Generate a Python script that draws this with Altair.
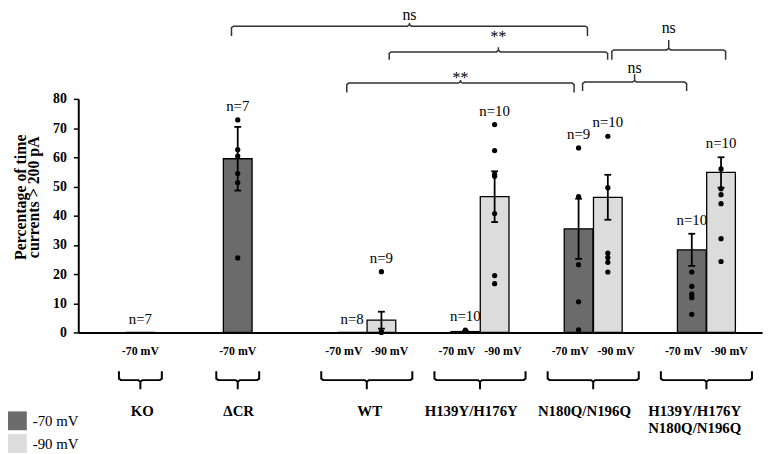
import altair as alt
import pandas as pd

# ---------------- data ----------------
GROUPS = ["KO", "ΔCR", "WT", "H139Y/H176Y", "N180Q/N196Q", "H139Y/H176Y\nN180Q/N196Q"]
VOLTAGES = ["-70 mV", "-90 mV"]
VOLT_COLORS = ["#6b6b6b", "#dcdcdc"]
Y_TITLE = ["Percentage of time", "currents > 200 pA"]

BAR_GROUP = [0, 1, 2, 2, 3, 3, 4, 4, 5, 5]  # index into GROUPS
BAR_VOLT = ["-70 mV", "-70 mV", "-70 mV", "-90 mV", "-70 mV",
            "-90 mV", "-70 mV", "-90 mV", "-70 mV", "-90 mV"]
BAR_MEAN = [0.0, 59.5, 0.0, 4.2, 0.3, 46.5, 35.5, 46.3, 28.3, 54.8]
BAR_SEM = [0.0, 10.9, 0.0, 2.9, 0.2, 8.7, 10.3, 7.7, 5.5, 5.2]
BAR_N = [7, 7, 8, 9, 10, 10, 9, 10, 10, 10]
BAR_POINTS = [
    [],
    [72.8, 62.6, 60.4, 54.4, 51.3, 25.5],
    [],
    [20.8, 0.3, 0.0],
    [0.8, 0.4],
    [71.2, 62.3, 54.2, 53.5, 40.7, 19.5, 16.7],
    [63.2, 46.5, 23.2, 10.5, 0.9],
    [67.2, 49.6, 27.2, 25.7, 24.0, 20.7],
    [20.7, 15.8, 13.1, 11.9, 6.2],
    [56.0, 49.2, 47.2, 44.1, 32.1, 24.3],
]

# significance comparisons (bar index -> bar index)
SIG_FROM = [1, 3, 2, 7, 6]
SIG_TO = [6, 7, 6, 9, 8]
SIG_LABEL = ["ns", "**", "**", "ns", "ns"]

# ---------------- layout ----------------
W, H = 691, 236
X_DOM = [-0.505, 5.448]
Y_DOM = [0, 80]
UX = (X_DOM[1] - X_DOM[0]) / W   # x data units per pixel
UY = (Y_DOM[1] - Y_DOM[0]) / H   # y data units per pixel
GROUP_X = [0.0, 0.86, 2.0, 3.0, 4.0, 5.0]
GROUP_LABEL_DX = [2, 1, 3, -9, -9, -12]   # px
PAIR_HALF = 15      # px between bar center and pair center
VOLT_LABEL_HALF = 23.5  # px between voltage label and pair center
BAR_W = 29
CAP_HALF = 3.5
TITLE_LINE_X = [-59, -45]   # px left of the y axis (baselines)
TITLE_Y = 46.3              # data value where the y title is centred

# bracket layout: (left nudge px, right nudge px, line y, end drop px, tip rise px, text offset px)
SIG_LAYOUT = [
    (-6.4, 9.1, 104.92, 10, 3.5, 6.5),
    (8.0, -0.2, 96.10, 8, 4.7, 9.5),
    (-5.5, -4.6, 85.42, 9.5, 3, 0),
    (4.1, 4.7, 96.78, 10, 10, 17),
    (4.1, -5.3, 85.76, 9, 8, 9.5),
]
VOLT_LABEL_Y = -7.63
BRACE_TOP, BRACE_LINE, BRACE_TIP = -13.29, -16.34, -19.49
GROUP_LABEL_Y = -28.75


def paired(g):
    return BAR_GROUP.count(g) > 1


def offset_x(i, half_px):
    g = BAR_GROUP[i]
    if not paired(g):
        return GROUP_X[g]
    sign = -1 if BAR_VOLT[i] == VOLTAGES[0] else 1
    return GROUP_X[g] + sign * half_px * UX


bars = pd.DataFrame({
    "x": [offset_x(i, PAIR_HALF) for i in range(len(BAR_MEAN))],
    "lx": [offset_x(i, VOLT_LABEL_HALF) for i in range(len(BAR_MEAN))],
    "mean": BAR_MEAN,
    "lo": [m - s for m, s in zip(BAR_MEAN, BAR_SEM)],
    "hi": [m + s for m, s in zip(BAR_MEAN, BAR_SEM)],
    "sem": BAR_SEM,
    "volt": BAR_VOLT,
    "nlab": [f"n={n}" for n in BAR_N],
})
bars["top"] = [max([h] + p) for h, p in zip(bars["hi"], BAR_POINTS)]
bars["xl"] = bars["x"] - CAP_HALF * UX
bars["xr"] = bars["x"] + CAP_HALF * UX
bars["vy"] = VOLT_LABEL_Y
err = bars[bars["sem"] > 0]

pts = pd.DataFrame([{"x": bars["x"][i], "v": v}
                    for i, p in enumerate(BAR_POINTS) for v in p])


def brace(bid, x1, x2, y_line, y_end, y_tip):
    c = (x1 + x2) / 2
    se = 1 if y_end > y_line else -1
    st = 1 if y_tip > y_line else -1
    seq = [(x1, y_end), (x1, y_line + se * 1.5 * UY), (x1 + 2 * UX, y_line),
           (c - 2 * UX, y_line), (c, y_line + st * 1.5 * UY), (c, y_tip),
           (c, y_line + st * 1.5 * UY), (c + 2 * UX, y_line),
           (x2 - 2 * UX, y_line), (x2, y_line + se * 1.5 * UY), (x2, y_end)]
    return [{"id": bid, "o": k, "x": px, "y": py} for k, (px, py) in enumerate(seq)]


rows = []
glab = []
for g, name in enumerate(GROUPS):
    half = (46.7 if paired(g) else 22) * UX
    rows += brace(f"g{g}", GROUP_X[g] - half, GROUP_X[g] + half, BRACE_LINE, BRACE_TOP, BRACE_TIP)
    glab.append({"x": GROUP_X[g] + GROUP_LABEL_DX[g] * UX, "y": GROUP_LABEL_Y, "t": name})
braces = pd.DataFrame(rows)
glab = pd.DataFrame(glab)

srows = []
slab = []
for k, (a, b, lab) in enumerate(zip(SIG_FROM, SIG_TO, SIG_LABEL)):
    nl, nr, yl, drop, rise, toff = SIG_LAYOUT[k]
    x1 = offset_x(a, PAIR_HALF) + nl * UX
    x2 = offset_x(b, PAIR_HALF) + nr * UX
    srows += brace(f"s{k}", x1, x2, yl, yl - drop * UY, yl + rise * UY)
    slab.append({"x": (x1 + x2) / 2, "y": yl + toff * UY, "t": lab})
sig = pd.DataFrame(srows)
slab = pd.DataFrame(slab)

ytitle = pd.DataFrame({
    "x": [X_DOM[0] + dx * UX for dx in TITLE_LINE_X],
    "y": [TITLE_Y] * len(Y_TITLE),
    "t": Y_TITLE,
})

# ---------------- chart ----------------
FONT = "Liberation Serif"
xs = alt.Scale(domain=X_DOM, nice=False, zero=False)
ys = alt.Scale(domain=Y_DOM, nice=False)
XAX = alt.Axis(labels=False, ticks=False, title=None, grid=False,
               domainColor="black", domainWidth=2)
YAX = alt.Axis(
    values=list(range(0, 81, 10)), grid=False, title=None,
    labelFont=FONT, labelFontSize=14, labelFontWeight="bold", labelColor="black",
    labelPadding=7, tickSize=5, tickColor="black", tickWidth=1.5,
    domainColor="black", domainWidth=2)


def X(f):
    return alt.X(f, type="quantitative", scale=xs, axis=XAX)


def Y(f):
    return alt.Y(f, type="quantitative", scale=ys, axis=YAX)


bar_layer = alt.Chart(bars).mark_bar(size=BAR_W, stroke="black", strokeWidth=1.3, opacity=1).encode(
    x=X("x"), y=Y("mean"),
    color=alt.Color("volt:N", scale=alt.Scale(domain=VOLTAGES, range=VOLT_COLORS),
                    legend=alt.Legend(title=None, orient="none", legendX=-71, legendY=315.8,
                                      symbolType="square", symbolSize=361, symbolStrokeWidth=0,
                                      symbolOpacity=1, labelFont=FONT, labelFontSize=15,
                                      labelColor="black", rowPadding=4, labelOffset=6,
                                      padding=0, direction="vertical")),
)

err_line = alt.Chart(err).mark_rule(color="black", strokeWidth=1.8).encode(x=X("x"), y=Y("lo"), y2="hi")
cap_hi = alt.Chart(err).mark_rule(color="black", strokeWidth=1.8).encode(x=X("xl"), x2="xr", y=Y("hi"))
cap_lo = alt.Chart(err).mark_rule(color="black", strokeWidth=1.8).encode(x=X("xl"), x2="xr", y=Y("lo"))
dots = alt.Chart(pts).mark_circle(size=28, color="black", opacity=1).encode(x=X("x"), y=Y("v"))
nlabels = alt.Chart(bars).mark_text(dy=-9, fontSize=15, font=FONT, color="black",
                                    baseline="alphabetic").encode(x=X("x"), y=Y("top"), text="nlab")
vlabels = alt.Chart(bars).mark_text(fontSize=12, fontWeight="bold", font=FONT, color="black",
                                    baseline="alphabetic").encode(x=X("lx"), y=Y("vy"), text="volt")
brace_layer = alt.Chart(braces).mark_line(color="black", strokeWidth=2).encode(
    x=X("x"), y=Y("y"), detail="id:N", order="o:Q")
glabels = alt.Chart(glab).mark_text(fontSize=15, fontWeight="bold", font=FONT, color="black",
                                    baseline="alphabetic", lineBreak="\n", lineHeight=16.7).encode(
    x=X("x"), y=Y("y"), text="t")
sig_layer = alt.Chart(sig).mark_line(color="#333333", strokeWidth=1.5).encode(
    x=X("x"), y=Y("y"), detail="id:N", order="o:Q")
slabels = alt.Chart(slab).mark_text(fontSize=16, font=FONT, color="black",
                                    baseline="alphabetic").encode(x=X("x"), y=Y("y"), text="t")
title_layer = alt.Chart(ytitle).mark_text(angle=270, fontSize=16, fontWeight="bold", font=FONT,
                                          color="black", align="center", baseline="alphabetic").encode(
    x=X("x"), y=Y("y"), text="t")

chart = alt.layer(
    bar_layer, err_line, cap_hi, cap_lo, dots, nlabels, vlabels,
    brace_layer, glabels, sig_layer, slabels, title_layer,
).properties(
    width=W, height=H,
    autosize=alt.AutoSizeParams(type="none"),
    padding={"left": 71, "top": 89.5, "right": 7, "bottom": 120.5},
).configure(font=FONT).configure_view(stroke=None)

chart.save("out.html", embed_options={"renderer": "svg", "actions": False})
